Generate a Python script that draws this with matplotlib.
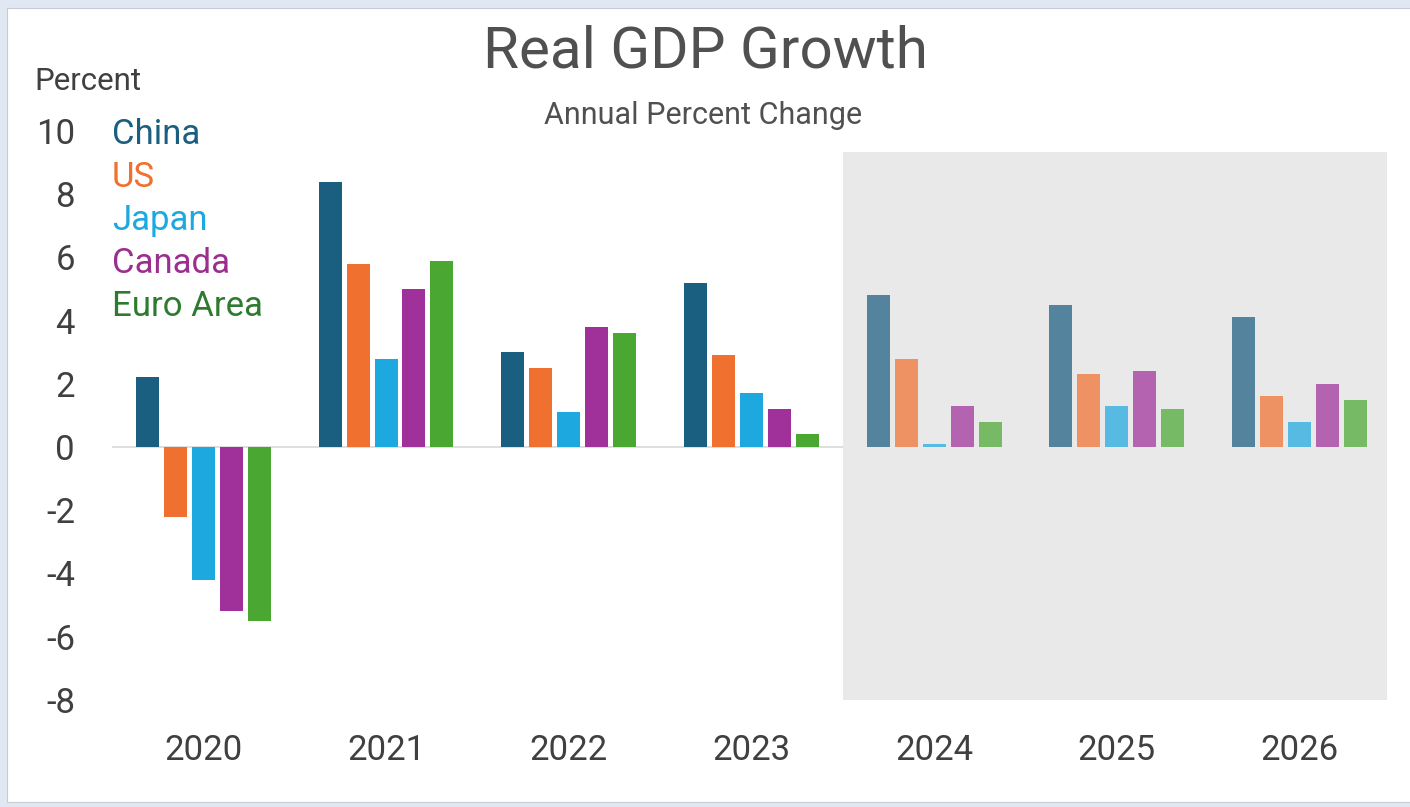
import matplotlib.pyplot as plt
import matplotlib.patches as mpatches
import numpy as np

plt.rcParams['font.family'] = ['Roboto', 'DejaVu Sans']
plt.rcParams['axes.unicode_minus'] = False

years = ["2020", "2021", "2022", "2023", "2024", "2025", "2026"]
countries = ["China", "US", "Japan", "Canada", "Euro Area"]

china = [2.2, 8.4, 3.0, 5.2, 4.8, 4.5, 4.1]
us = [-2.2, 5.8, 2.5, 2.9, 2.8, 2.3, 1.6]
japan = [-4.2, 2.8, 1.1, 1.7, 0.1, 1.3, 0.8]
canada = [-5.2, 5.0, 3.8, 1.2, 1.3, 2.4, 2.0]
euro_area = [-5.5, 5.9, 3.6, 0.4, 0.8, 1.2, 1.5]

series = [china, us, japan, canada, euro_area]
bar_colors = ["#1a5e80", "#f07030", "#1ea8e0", "#a0309a", "#4aa832"]
text_colors = ["#1a5e80", "#f07030", "#1ea8e0", "#9b2e8e", "#2e7a2e"]
first_forecast = 4  # 2024 onward is projected

fig = plt.figure(figsize=(14.1, 8.07), dpi=100, facecolor="#dfe8f3")
# white card behind the chart
fig.patches.append(mpatches.Rectangle((7 / 1410, 5 / 807), 1, 794 / 807,
                                      transform=fig.transFigure,
                                      facecolor="white", edgecolor="#c8ccd2",
                                      linewidth=0.8, zorder=-5))

ax = fig.add_axes([0.0794, 0.1211, 0.9071, 0.7283])
ax.set_facecolor("none")
ax.set_zorder(2)

x = np.arange(len(years))
width = 0.126
pitch = 0.153

for i, (vals, col) in enumerate(zip(series, bar_colors)):
    offset = (i - 2) * pitch
    for j, v in enumerate(vals):
        a = 1.0 if j < first_forecast else 0.72
        ax.bar(x[j] + offset, v, width, color=col, alpha=a, zorder=3)

# forecast shading
ax.add_patch(mpatches.Rectangle((first_forecast - 0.5, -8), 2.98, 17.35,
                                facecolor="#e9e9e9", edgecolor="none", zorder=2))
ax.axhline(0, xmin=0, xmax=(first_forecast) / 7, color="#d9d9d9",
           linewidth=1.2, zorder=1)

ax.set_xlim(-0.5, 6.5)
ax.set_ylim(-8.3, 10.3)
ax.set_yticks(range(-8, 11, 2))
ax.set_xticks(x)
ax.set_xticklabels(years)
for s in ax.spines.values():
    s.set_visible(False)
ax.tick_params(axis="y", length=0, pad=26.6, labelsize=25, labelcolor="#404040")
ax.tick_params(axis="x", length=0, pad=18, labelsize=25, labelcolor="#404040")

# legend as coloured labels
for k, (name, col) in enumerate(zip(countries, text_colors)):
    fig.text(112 / 1410, 1 - (135 + 42.8 * k) / 807, name, color=col,
             fontsize=25, ha="left", va="center")

fig.text(34 / 1410, 1 - 82 / 807, "Percent", fontsize=22.5, color="#404040",
         ha="left", va="center")
fig.text(705 / 1410, 1 - 52 / 807, "Real GDP Growth", fontsize=42,
         color="#505050", ha="center", va="center")
fig.text(703 / 1410, 1 - 115 / 807, "Annual Percent Change", fontsize=22,
         color="#505050", ha="center", va="center")

fig.savefig("out.png", dpi=100, facecolor=fig.get_facecolor())
